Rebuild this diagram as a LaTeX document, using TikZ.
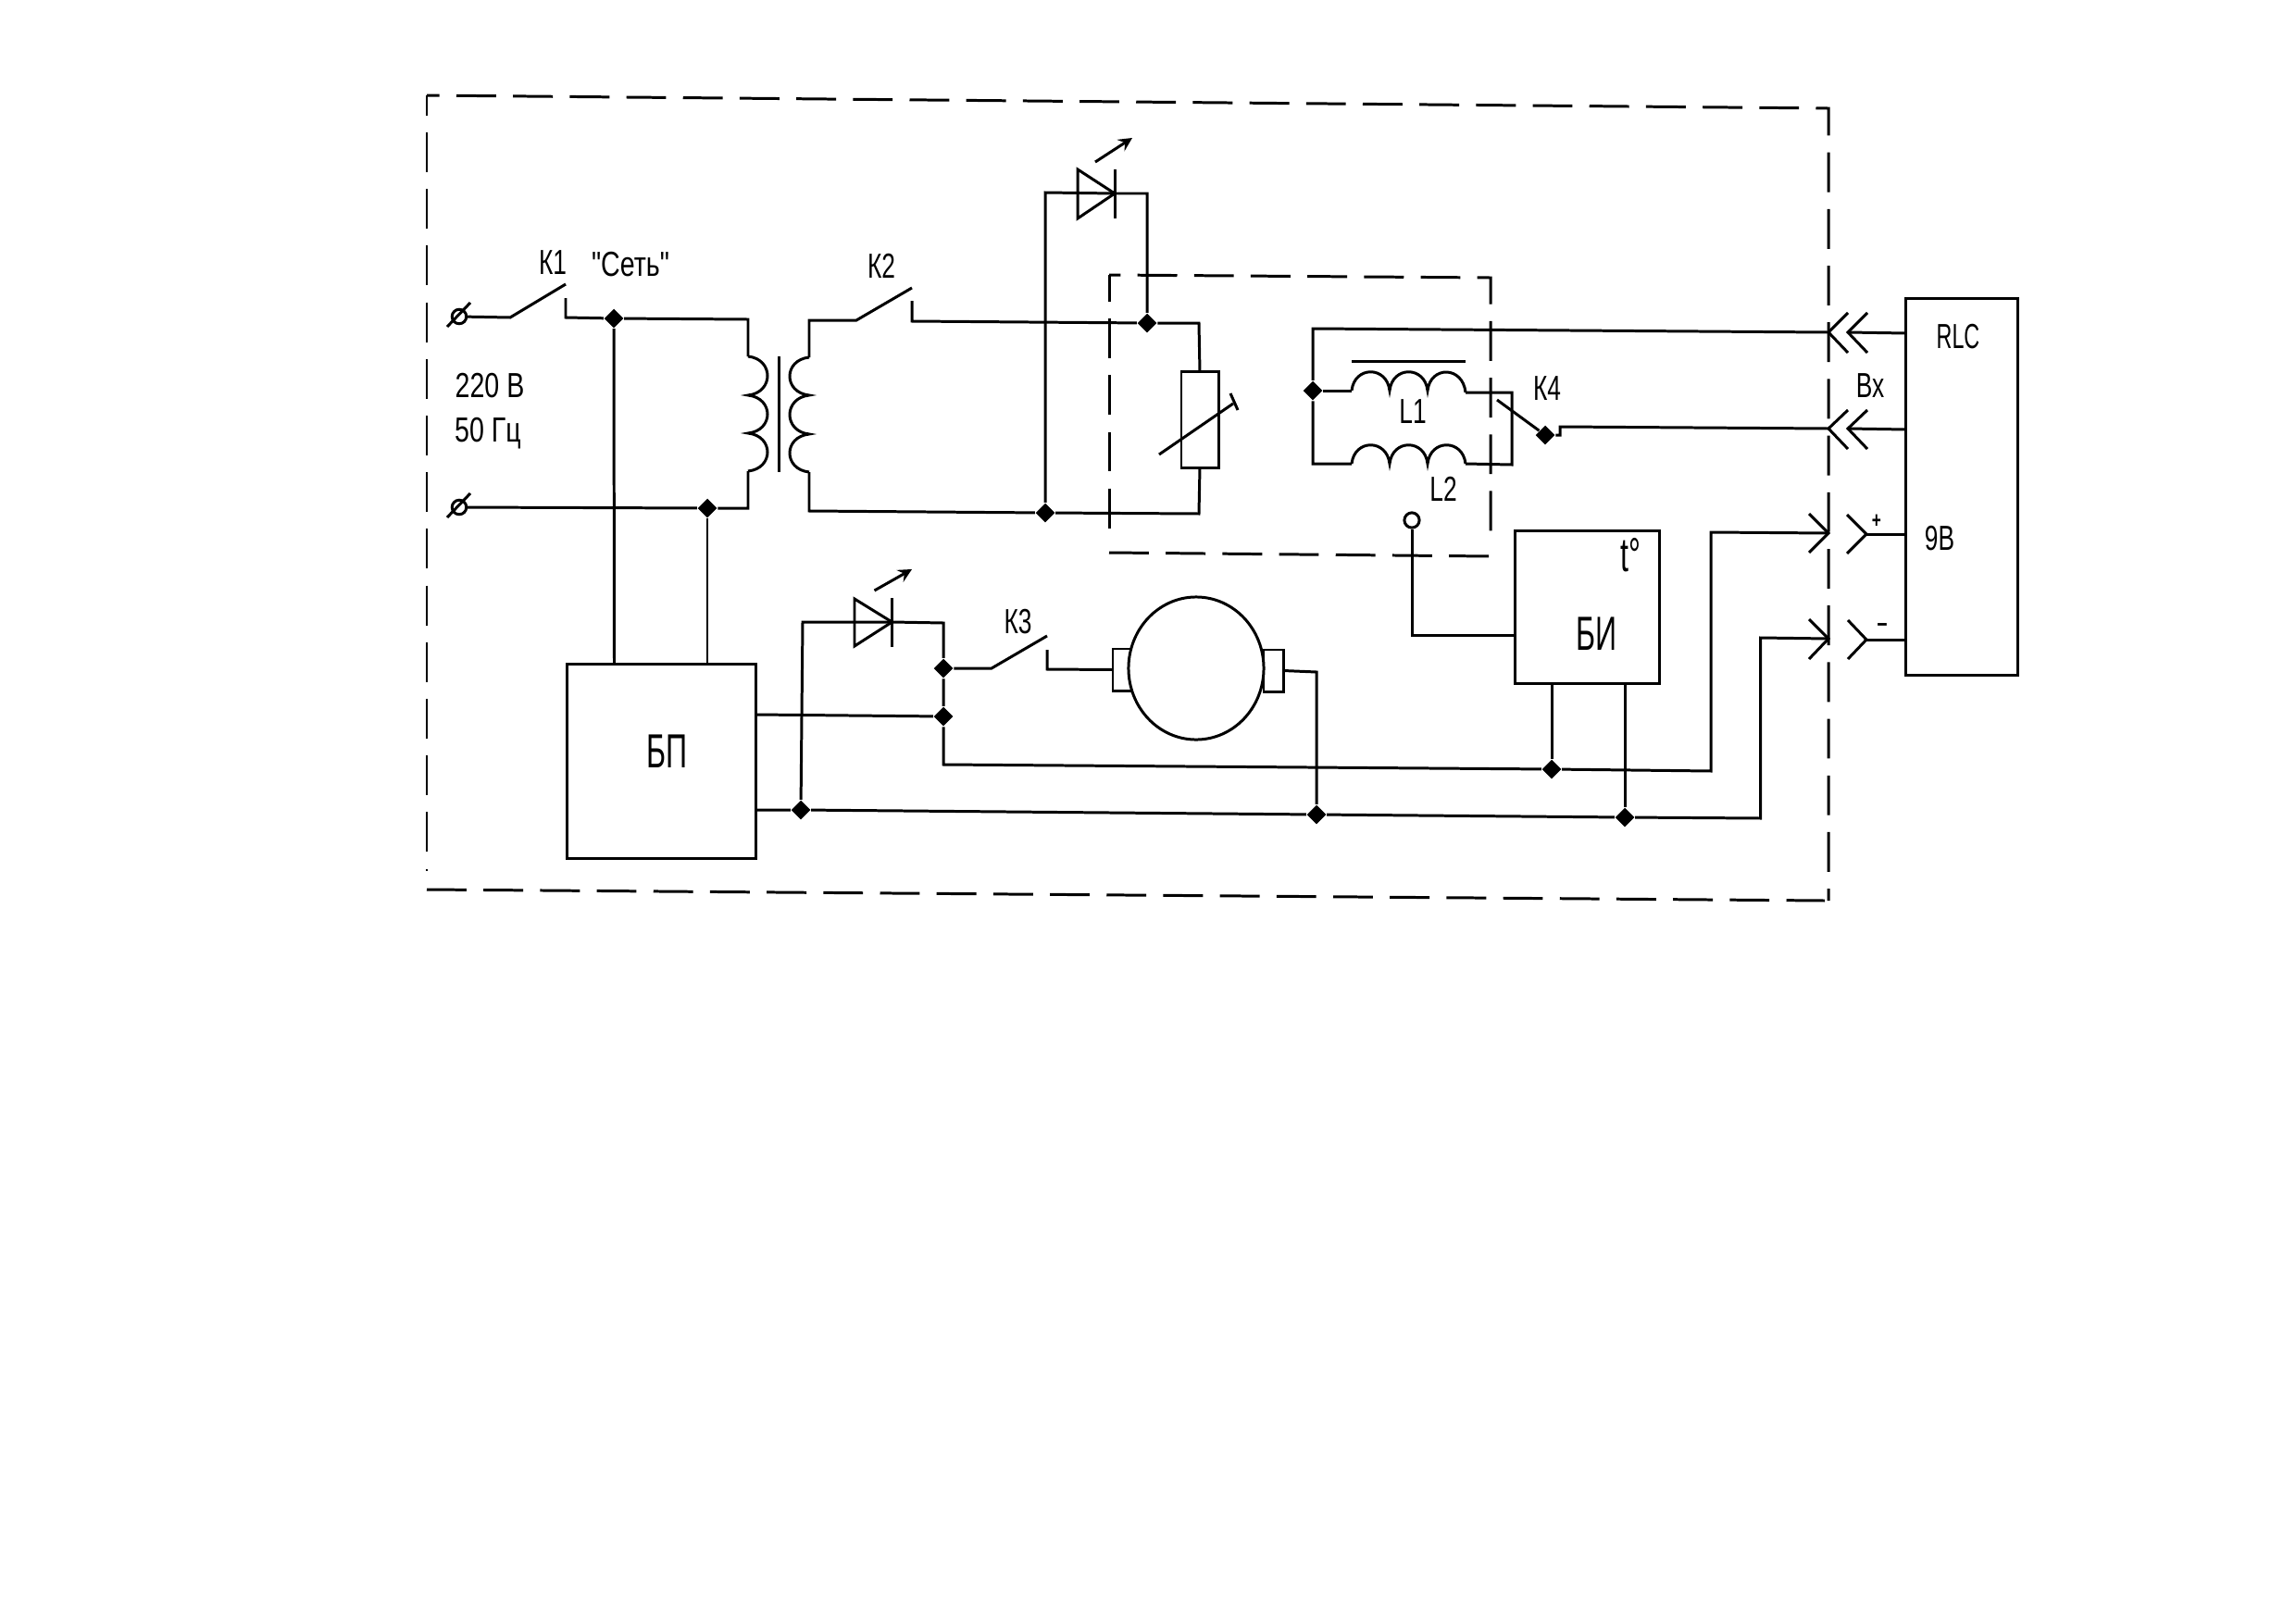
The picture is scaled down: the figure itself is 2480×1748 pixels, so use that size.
\documentclass[tikz,border=0pt]{standalone}
\usepackage{fontspec}
\setmainfont[FakeStretch=0.7]{Liberation Sans}
\newfontfamily\narrowfont[FakeStretch=0.62]{Liberation Sans}
\newfontfamily\widefont[FakeStretch=0.76]{Liberation Sans}
\usetikzlibrary{shapes.geometric}
\tikzset{
  wire/.style={line width=0.85pt,line join=miter},
  frame/.style={line width=0.85pt,dash pattern=on 12.2pt off 5.2pt},
  junction/.style={diamond,fill=black,inner sep=0pt,minimum size=6pt},
  box/.style={draw,line width=0.85pt,inner sep=0pt,outer sep=0pt},
  lbl/.style={inner sep=0pt,font=\fontsize{10.7}{12}\selectfont},
  biglbl/.style={inner sep=0pt,font=\narrowfont\fontsize{14.7}{16}\selectfont},
}

\begin{document}
\begin{tikzpicture}[x=0.01cm,y=-0.01cm]
\useasboundingbox[fill=white] (0,0) rectangle (2480,1748);

\draw[frame,dash phase=8.3pt] (461,103) -- (1975,117) -- (1975,973);
\draw[frame,dash phase=6pt] (461,103) -- (461,941);
\draw[frame] (461,961) -- (1971,973);
\draw[frame,dash phase=8.7pt] (1198,297) -- (1610,300) -- (1610,581);
\draw[frame,dash phase=4pt] (1198,297) -- (1198,577);
\draw[frame] (1198,597) -- (1610,601);

\node[box,minimum width=2.03cm,minimum height=2.09cm] (bp) at (714.5,822.5) {};
\node[box,minimum width=1.55cm,minimum height=1.64cm] (bi) at (1714.5,656) {};
\node[box,minimum width=1.2cm,minimum height=4.06cm] (rlc) at (2119,526) {};
\node[box,minimum width=0.4cm,minimum height=1.03cm] (res) at (1296,453.5) {};
\node[box,minimum width=0.2cm,minimum height=0.45cm] (brushl) at (1212,723.5) {};
\node[box,minimum width=0.21cm,minimum height=0.45cm] (brushr) at (1375.5,724.5) {};
\node[box,ellipse,fill=white,minimum width=1.46cm,minimum height=1.54cm] (motor) at (1292,722) {};

\node[junction] (jk1) at (663,344) {};
\node[junction] (jmain) at (764,549) {};
\node[junction] (jsecb) at (1129,554) {};
\node[junction] (jsect) at (1239,349) {};
\node[junction] (jl) at (1418,422) {};
\node[junction] (jk4) at (1669,470) {};
\node[junction] (jk3) at (1019,722) {};
\node[junction] (jbp) at (1019,774) {};
\node[junction] (jneg) at (865,875) {};
\node[junction] (jmot) at (1422,880) {};
\node[junction] (jbia) at (1676,831) {};
\node[junction] (jbib) at (1755,883) {};

\coordinate (ta) at (496,342);
\coordinate (tb) at (496,548);
\coordinate (bpa) at (663.5,718);
\coordinate (bpb) at (764,718);
\coordinate (bpo) at (816,772);
\coordinate (bpn) at (816,875);
\coordinate (biin) at (1637,686);
\coordinate (bia) at (1676,738);
\coordinate (bib) at (1755,738);
\coordinate (xa) at (1975,359);
\coordinate (xb) at (1975,463);
\coordinate (xc) at (1975,576);
\coordinate (xd) at (1975,690);
\coordinate (ya) at (1996,359);
\coordinate (yb) at (1996,463);
\coordinate (yc) at (2016,577);
\coordinate (yd) at (2016,691);

\node[draw,circle,line width=0.85pt,inner sep=0pt,minimum size=4.4pt] (clampa) at (ta) {};
\node[draw,circle,line width=0.85pt,inner sep=0pt,minimum size=4.4pt] (clampb) at (tb) {};
\draw[wire] (483,353) -- (508,327);
\draw[wire] (483,559) -- (508,533);
\node[draw,circle,line width=0.85pt,inner sep=0pt,minimum size=4.6pt] (probe) at (1525,562) {};

\draw[wire] (clampa) -- (551,343) -- (611,307);
\draw[wire] (611,322) -- (611,343) -- (jk1) -- (808,345) -- (808,385);
\draw[wire] (808,385) .. controls (836,388) and (836,424) .. (808,427)
  .. controls (836,430) and (836,465) .. (808,468)
  .. controls (836,471) and (836,506) .. (808,509);
\draw[wire] (808,509) -- (808,549) -- (jmain) -- (clampb);
\draw[wire] (841.5,385) -- (841.5,510);
\draw[wire] (874,386) .. controls (846,389) and (846,424) .. (874,427)
  .. controls (846,430) and (846,466) .. (874,469)
  .. controls (846,472) and (846,507) .. (874,510);
\draw[wire] (874,386) -- (874,346) -- (925,346) -- (985,311);
\draw[wire] (985,325) -- (985,347) -- (jsect) -- (1295,349) -- (res.north);
\draw[wire] (874,510) -- (874,552) -- (jsecb) -- (1295,555) -- (res.south);
\draw[wire] (jk1) -- (bpa);
\draw[wire] (jmain) -- (bpb);

\draw[wire] (jsecb) -- (1129,208) -- (1204,209) -- (1239,209) -- (jsect);
\draw[wire] (1164,183) -- (1164,236) -- (1204,209) -- cycle;
\draw[wire] (1204,183) -- (1204,236);
\draw[wire,-stealth] (1183,175) -- (1223,149);
\draw[wire] (1252,491) -- (1332,436);
\draw[wire] (1329,425) -- (1337,443);

\draw[wire] (xa) -- (1418,355) -- (jl) -- (1418,501) -- (1460,501);
\draw[wire] (jl) -- (1460,422);
\draw[wire] (1460,422) .. controls (1463,395) and (1498,395) .. (1501,422)
  .. controls (1504,395) and (1539,395) .. (1542,422)
  .. controls (1545,395) and (1580,395) .. (1583,424);
\draw[wire] (1460,501) .. controls (1463,474) and (1498,474) .. (1501,501)
  .. controls (1504,474) and (1539,474) .. (1542,501)
  .. controls (1545,474) and (1580,474) .. (1583,501);
\draw[wire] (1460,390) -- (1583,390);
\draw[wire] (1583,424) -- (1633,424) -- (1633,502) -- (1583,501);
\draw[wire] (1617,432) -- (jk4);
\draw[wire] (jk4) -- (1685,470) -- (1685,461) -- (xb);
\draw[wire] (probe) -- (1525,686) -- (biin);

\draw[wire] (jneg) -- (867,672) -- (963.5,672) -- (1019,673) -- (jk3) -- (jbp) -- (1019,826) -- (jbia) -- (1848,833) -- (1848,575) -- (xc);
\draw[wire] (923,647) -- (923,698) -- (963.5,672) -- cycle;
\draw[wire] (963.5,646) -- (963.5,699);
\draw[wire,-stealth] (944.5,638) -- (985,615);
\draw[wire] (bpo) -- (jbp);
\draw[wire] (bpn) -- (jneg) -- (jmot) -- (jbib) -- (1901.5,884) -- (1901.5,689) -- (xd);
\draw[wire] (jk3) -- (1071,722) -- (1131,687);
\draw[wire] (1131,702) -- (1131,723) -- (brushl.west);
\draw[wire] (brushr.east) -- (1422,726) -- (jmot);
\draw[wire] (bia) -- (jbia);
\draw[wire] (bib) -- (jbib);

\draw[wire] (1996,338) -- (xa) -- (1996,381);
\draw[wire] (2017,338) -- (ya) -- (2017,381);
\draw[wire] (ya) -- (2059,360);
\draw[wire] (1996,443) -- (xb) -- (1996,485);
\draw[wire] (2017,443) -- (yb) -- (2017,485);
\draw[wire] (yb) -- (2059,464);
\draw[wire] (1954,555) -- (xc) -- (1954,597);
\draw[wire] (1995,556) -- (yc) -- (1995,598);
\draw[wire] (yc) -- (2059,577);
\draw[wire] (1954,669) -- (xd) -- (1954,712);
\draw[wire] (1996,670) -- (yd) -- (1996,712);
\draw[wire] (yd) -- (2059,691);

\node[lbl] (lk1) at (597,284) {К1};
\node[lbl] (lnet) at (681,286) {\widefont"Сеть"};
\node[lbl] (lk2) at (952,287) {К2};
\node[lbl] (lv) at (529,417) {\widefont 220 В};
\node[lbl] (lhz) at (527,468) {\widefont 50 Гц};
\node[lbl] (lk3) at (1099.5,672) {К3};
\node[lbl] (lk4) at (1671,420) {К4};
\node[lbl] (ll1) at (1526,445) {L1};
\node[lbl] (ll2) at (1559,528) {L2};
\node[lbl] (lvx) at (2020,417) {Вх};
\node[lbl] (lrlc) at (2115,364) {\narrowfont RLC};
\node[lbl] (l9v) at (2095,582) {9В};
\node[biglbl] (lbp) at (721,812) {БП};
\node[biglbl] (lbi) at (1724.5,685) {БИ};
\node[biglbl] (lt) at (1761,600) {t°};
\node[inner sep=0pt,font=\fontsize{7}{8}\selectfont\bfseries] (lplus) at (2027,563) {+};
\node[inner sep=0pt,font=\fontsize{8}{9}\selectfont\bfseries] (lminus) at (2033,678) {–};
\end{tikzpicture}
\end{document}
